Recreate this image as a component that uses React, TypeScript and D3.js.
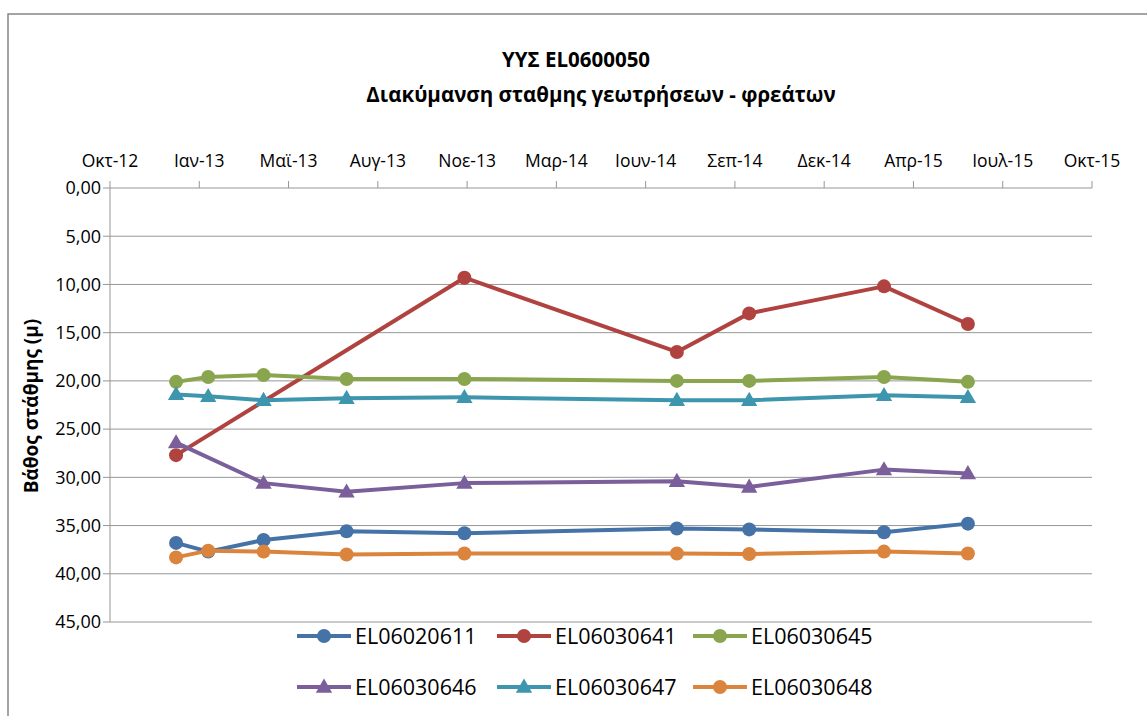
import React from "react";
import * as d3 from "d3";

const title1 = "ΥΥΣ EL0600050";
const title2 = "Διακύμανση σταθμης γεωτρήσεων - φρεάτων";
const yTitle = "Βάθος στάθμης (μ)";

const xTickLabels = ["Οκτ-12", "Ιαν-13", "Μαϊ-13", "Αυγ-13", "Νοε-13", "Μαρ-14", "Ιουν-14", "Σεπ-14", "Δεκ-14", "Απρ-15", "Ιουλ-15", "Οκτ-15"];
const yTicks = [0, 5, 10, 15, 20, 25, 30, 35, 40, 45];

const dates = ["2013-01-02", "2013-02-07", "2013-04-10", "2013-07-12", "2013-11-21", "2014-07-17", "2014-10-06", "2015-03-06", "2015-06-08"];

const EL06020611 = [36.8, 37.7, 36.5, 35.6, 35.8, 35.3, 35.4, 35.7, 34.8];
const EL06030641 = [27.7, null, null, null, 9.3, 17.0, 13.0, 10.2, 14.1];
const EL06030645 = [20.1, 19.6, 19.4, 19.8, 19.8, 20.0, 20.0, 19.6, 20.1];
const EL06030646 = [26.4, null, 30.6, 31.5, 30.6, 30.4, 31.0, 29.2, 29.6];
const EL06030647 = [21.4, 21.6, 22.0, 21.8, 21.7, 22.0, 22.0, 21.5, 21.7];
const EL06030648 = [38.3, 37.6, 37.7, 38.0, 37.9, 37.9, 37.95, 37.7, 37.9];

const seriesNames = ["EL06020611", "EL06030641", "EL06030645", "EL06030646", "EL06030647", "EL06030648"];
const seriesValues = [EL06020611, EL06030641, EL06030645, EL06030646, EL06030647, EL06030648];
const seriesColors = ["#4572A7", "#B0433F", "#89A54E", "#7A5F9B", "#3D96AE", "#DB843D"];
const seriesMarkers = ["circle", "circle", "circle", "triangle", "triangle", "circle"];

const FONT = "'Open Sans', 'Noto Sans', sans-serif";

export default function App() {
  const parse = d3.timeParse("%Y-%m-%d");
  const start = new Date(2012, 9, 20);
  const xTickDates = xTickLabels.map((_, i) => d3.timeDay.offset(start, i * 100));
  const x = d3.scaleTime().domain([xTickDates[0], xTickDates[xTickDates.length - 1]]).range([110, 1092]);
  const y = d3.scaleLinear().domain([0, 45]).range([188, 622]);
  const fmt = (v: number) => d3.format(".2f")(v).replace(".", ",");
  const pts = dates.map((d) => parse(d) as Date);

  const line = d3
    .line<[Date, number | null]>()
    .defined((d) => d[1] !== null)
    .x((d) => x(d[0]))
    .y((d) => y(d[1] as number));

  const tri = d3.symbol().type(d3.symbolTriangle).size(115)();

  const marker = (kind: string, color: string, cx: number, cy: number, key: string | number) =>
    kind === "circle" ? (
      <circle key={key} cx={cx} cy={cy} r={7} fill={color} />
    ) : (
      <path key={key} d={tri as string} transform={`translate(${cx},${cy + 1})`} fill={color} />
    );

  const legendX = [297, 497, 693];
  const legendY = [636, 687];

  return (
    <svg width={1147} height={716} style={{ position: "absolute", left: 0, top: 0, background: "#fff" }} fontFamily={FONT}>
      <rect x={8} y={14} width={1160} height={720} fill="#fff" stroke="#868686" strokeWidth={1.5} />
      <text x={576} y={67} textAnchor="middle" fontSize={20.5} fontWeight="bold" fill="#000">{title1}</text>
      <text x={601} y={102} textAnchor="middle" fontSize={20.5} fontWeight="bold" fill="#000">{title2}</text>

      {yTicks.map((t) => (
        <g key={t}>
          {t > 0 && <line x1={110} x2={1092} y1={y(t)} y2={y(t)} stroke="#969696" strokeWidth={1} />}
          <line x1={103} x2={110} y1={y(t)} y2={y(t)} stroke="#969696" />
          <text x={101} y={y(t)} dy="0.35em" textAnchor="end" fontSize={18} fill="#000">{fmt(t)}</text>
        </g>
      ))}
      <line x1={110} x2={110} y1={188} y2={622} stroke="#969696" />
      <line x1={110} x2={1092} y1={188} y2={188} stroke="#969696" />
      {xTickDates.map((d, i) => (
        <g key={i}>
          <line x1={x(d)} x2={x(d)} y1={181} y2={188} stroke="#969696" />
          <text x={x(d)} y={167} textAnchor="middle" fontSize={17.5} fill="#000">{xTickLabels[i]}</text>
        </g>
      ))}

      <text transform={`translate(38,406) rotate(-90)`} textAnchor="middle" fontSize={19} fontWeight="bold" fill="#000">{yTitle}</text>

      {seriesValues.map((vals, si) => {
        const data = pts.map((p, i) => [p, vals[i]] as [Date, number | null]).filter((d) => d[1] !== null);
        return (
          <g key={si}>
            <path d={line(data) as string} fill="none" stroke={seriesColors[si]} strokeWidth={4} strokeLinejoin="round" />
            {data.map((d, i) => marker(seriesMarkers[si], seriesColors[si], x(d[0]), y(d[1] as number), i))}
          </g>
        );
      })}

      {seriesNames.map((name, i) => {
        const lx = legendX[i % 3];
        const ly = legendY[Math.floor(i / 3)];
        return (
          <g key={name}>
            <line x1={lx} x2={lx + 54} y1={ly} y2={ly} stroke={seriesColors[i]} strokeWidth={4} />
            {marker(seriesMarkers[i], seriesColors[i], lx + 27, ly, "m")}
            <text x={lx + 58} y={ly} dy="0.36em" fontSize={21.5} fill="#000">{name}</text>
          </g>
        );
      })}
    </svg>
  );
}
